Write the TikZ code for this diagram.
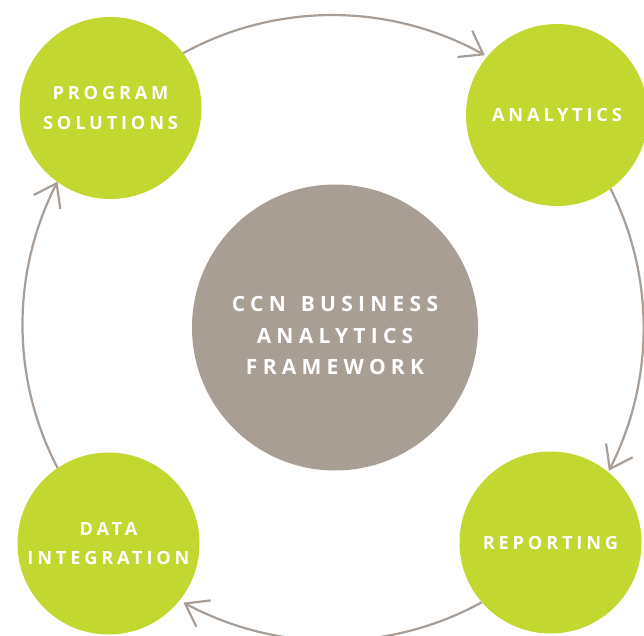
\documentclass[tikz,border=0pt]{standalone}
\usepackage{fontspec}
\setmainfont{Open Sans}
\newfontfamily\lblfont[LetterSpace=21,UprightFont={* Bold}]{Open Sans}
\newfontfamily\hubfont[LetterSpace=25,UprightFont={* Bold}]{Open Sans}
\usetikzlibrary{arrows.meta,bending}
\definecolor{leaf}{HTML}{C2D72F}
\definecolor{stone}{HTML}{A89E94}
\definecolor{flowgray}{HTML}{A89E96}
\begin{document}
\begin{tikzpicture}[x=1pt,y=1pt,
  stage/.style={circle, fill=leaf, inner sep=0pt, minimum size=182pt,
    text=white, align=center,
    font=\lblfont\fontsize{18.2}{29.5}\selectfont},
  hub/.style={circle, fill=stone, inner sep=0pt, minimum size=286pt},
  hubtext/.style={text=white, align=center, inner sep=0pt,
    font=\hubfont\fontsize{21}{31.5}\selectfont},
  flow/.style={draw=flowgray, line width=2.2pt,
    -{Straight Barb[length=21pt,width=30pt,line width=2.2pt]}}
]
\useasboundingbox (0,0) rectangle (644,635);

% ring that carries the four stages
\def\ringR{310}
\coordinate (o) at (332,310);

% the four stages and the framework hub
\node[stage] (prog) at (110.5,527) {PROGRAM\\SOLUTIONS};
\node[stage] (anal) at (557,520) {ANALYTICS};
\node[stage] (rep)  at (550.5,92.5) {REPORTING};
\node[stage] (data) at (108.5,91.5) {DATA\\INTEGRATION};

\node[hub] (hub) at (335,307.5) {};
\node[hubtext] (hubtext) at ([yshift=-8]hub.center)
  {CCN\hspace{15pt}BUSINESS\\ANALYTICS\\FRAMEWORK};

% clockwise flow along the ring, from stage to stage
\draw[flow] (prog.37)   arc[start angle=118.7, end angle=60.5,   radius=\ringR];
\draw[flow] (anal.-54.8) arc[start angle=26.7,  end angle=-27.4,  radius=\ringR];
\draw[flow] (rep.-139.9) arc[start angle=-61.2, end angle=-118.7, radius=\ringR];
\draw[flow] (data.124.3) arc[start angle=207.5, end angle=152.5,  radius=\ringR];
\end{tikzpicture}
\end{document}
